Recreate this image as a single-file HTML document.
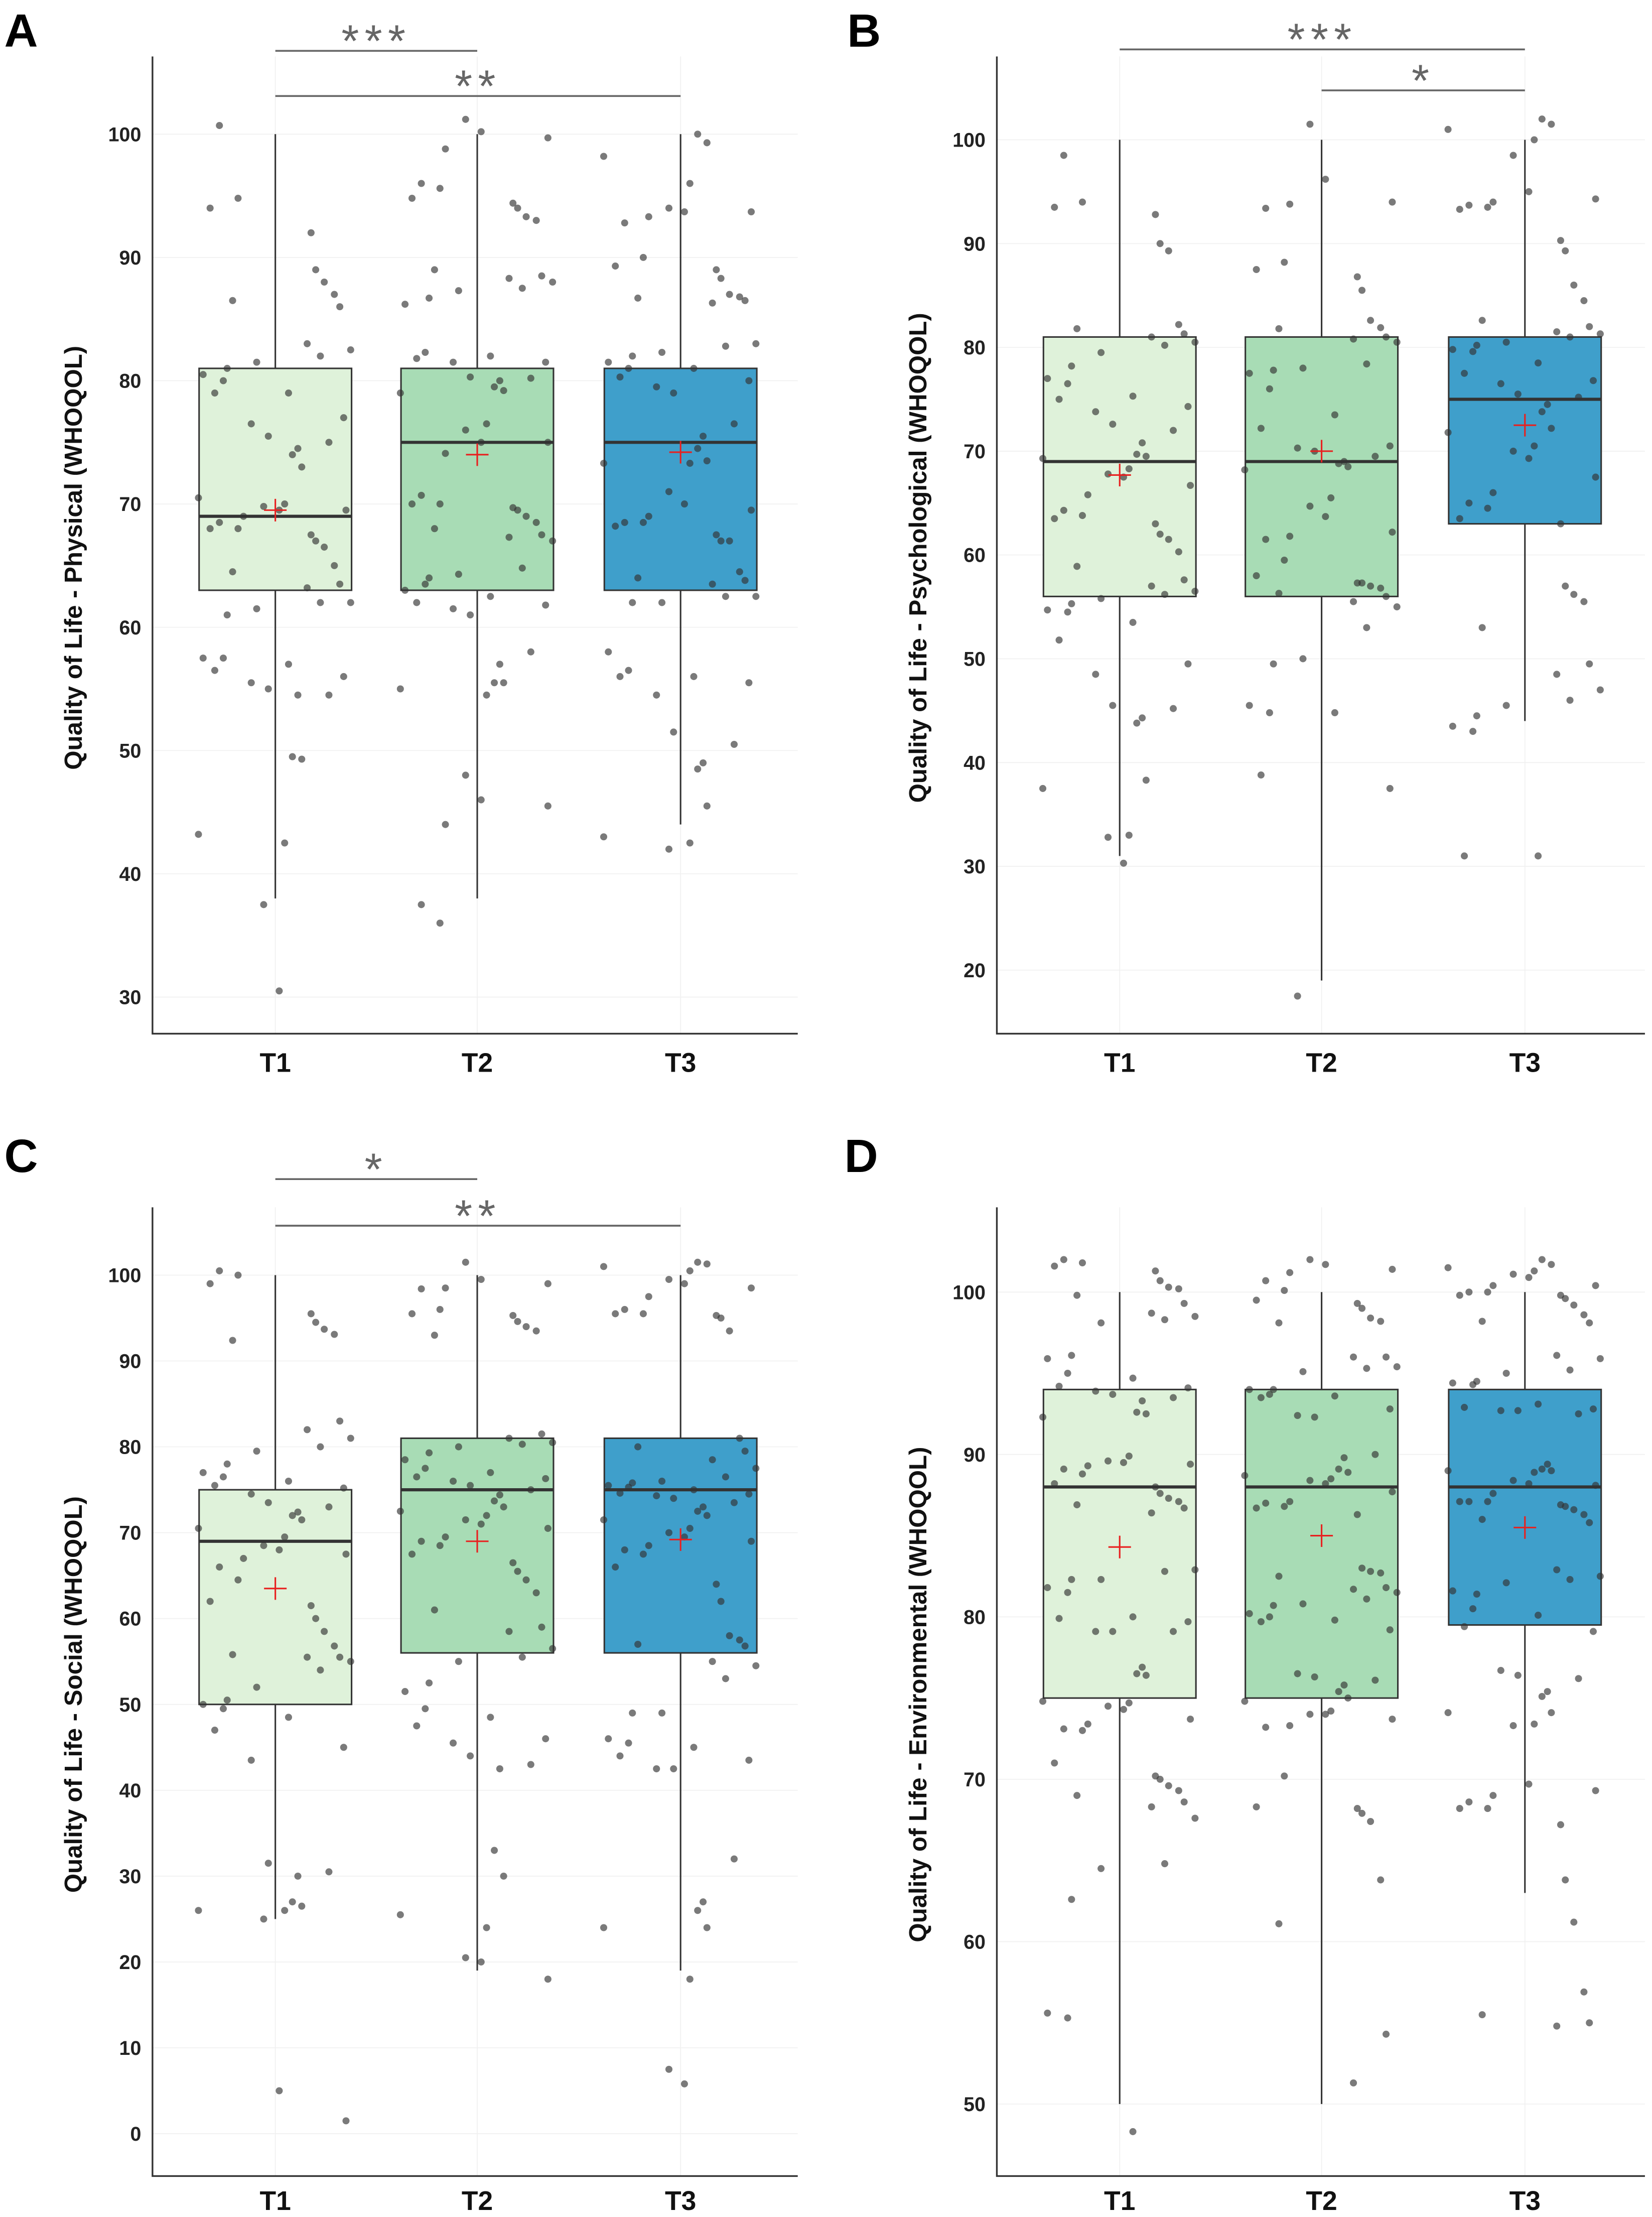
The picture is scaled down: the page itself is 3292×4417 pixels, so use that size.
<!DOCTYPE html>
<html><head><meta charset="utf-8"><style>
html,body{margin:0;padding:0;background:#fff}
svg{display:block}
text{font-family:"Liberation Sans",Arial,sans-serif}
</style></head><body>
<svg id="fig" width="3292" height="4417" viewBox="0 0 1170 1570" preserveAspectRatio="none" xmlns="http://www.w3.org/2000/svg"></svg>
<script>
const groups = ["T1","T2","T3"];
const fills = ["#dff2da","#a8dcb5","#3f9fcb"];
// box stats [low whisker, q1, median, q3, high whisker, mean]
const statsA = [[38,63,69,81,100,69.5],[38,63,75,81,100,74],[44,63,75,81,100,74.2]];
const statsB = [[31,56,69,81,100,67.7],[19,56,69,81,100,70],[44,63,75,81,100,72.5]];
const statsC = [[25,50,69,75,100,63.5],[19,56,75,81,100,69],[19,56,75,81,100,69.2]];
const statsD = [[50,75,88,94,100,84.3],[50,75,88,94,100,85],[63,79.5,88,94,100,85.5]];
// individual observations
const ptsA = [
 [100.7,94.8,94,92,89,88,87,86.5,86,83,82.5,82,81.5,81,80.5,80,79,79,77,76.5,75.5,75,74.5,74,73,70.5,70,69.8,69.5,69.5,69,68.5,68,68,67.5,67,66.5,65,64.5,63.5,63.2,62,62,61.5,61,57.5,57.5,57,56.5,56,55.5,55,54.5,54.5,49.5,49.3,43.2,42.5,37.5,30.5],
 [101.2,100.2,99.7,98.8,96,95.6,94.8,94.4,94,93.3,93,89,88.5,88.3,88,87.5,87.3,86.7,86.2,82.3,82,81.8,81.5,81.5,80.3,80.2,80,79.5,79.2,79,76.5,76,75,75,74.1,70.7,70,70,69.7,69.5,69,68.5,68,67.5,67.3,67,64.8,64.3,64,63,63.5,62.5,62,61.8,61.5,61,58,57,55.5,55.5,55,54.5,48,46,45.5,44,37.5,36],
 [100,99.3,98.2,96,94,93.7,93.7,93.3,92.8,90,89.3,89,88.3,87,86.8,86.7,86.5,86.3,83,82.8,82.3,82,81.5,81,81,80.3,80,79.5,79,76.5,75.5,74.5,73.5,73.3,73.3,71,70,69.5,69,68.5,68.5,68.2,67.5,67,67,64.5,64,63.8,63.5,62.5,62.5,62,62,58,56.5,56,56,55.5,54.5,51.5,50.5,49,48.5,45.5,43,42.5,42]
];
const ptsB = [
 [98.5,94,93.5,92.8,90,89.3,82.2,81.8,81.3,81,80.5,80.2,79.5,78.2,77,76.5,75.3,75,74.3,73.8,72.6,72,70.8,69.7,69.5,69.3,68.3,67.8,67.5,66.7,65.8,64.3,63.8,63.5,63,62,61.5,60.3,58.9,57.6,57,56.5,56.2,55.8,55.3,54.7,54.5,53.5,51.8,49.5,48.5,45.5,45.2,44.3,43.8,38.3,37.5,33,32.8,30.3],
 [101.5,96.2,94,93.8,93.4,88.2,87.5,86.8,85.5,82.6,81.9,81.8,81,80.8,80.5,78.4,78,77.8,77.5,76,73.5,72.2,70.5,70.3,70,69.5,69,68.8,68.5,68.2,65.5,64.7,63.7,62.2,61.8,61.5,59.5,58,57.3,57.3,57,56.8,56.3,56,55.5,55,53,50,49.5,45.5,44.8,44.8,38.8,37.5,17.5],
 [102,101.5,101,100,98.5,95,94.3,94,93.7,93.5,93.3,90.3,89.3,86,84.5,82.6,82,81.5,81.3,81,80.5,80.2,79.8,79.6,78.5,77.5,76.8,76.5,75.5,75.2,74.5,73.8,72.2,71.8,70.5,70,69.3,67.5,66,65,64.5,63.5,63,57,56.2,55.5,53,49.5,48.5,47,46,45.5,44.5,43.5,43,31,31]
];
const ptsC = [
 [100.5,100,99,95.5,94.5,93.7,93.1,92.4,83,82,81,80,79.5,78,77,76.5,76,75.5,75.2,74.5,73.5,73,72.4,72,71.5,70.5,69.5,68.5,68,67.5,67,66,64.5,62,61.5,60,58.5,56.8,55.8,55.5,55.5,55,54,52,50.5,50,49.5,48.5,47,45,43.5,31.5,30.5,30,27,26.5,26,26,25,5,1.5],
 [101.5,99.5,99,98.5,98.4,96,95.5,95.3,94.6,94,93.5,93,81.5,81,80.5,80.3,80,79.3,78.5,77.5,77,76.5,76.3,76,75.5,75,74.4,73.7,73,72.5,72,71.5,71,70.5,69.5,69,68.5,67.5,66.5,65.5,64.5,63,61,59,58.5,56.5,55.5,55,52.5,51.5,49.5,48.5,47.5,46,45.5,44,43,42.5,33,30,25.5,24,20.5,20,18],
 [101.5,101.3,101,100.5,99.5,99,98.5,97.5,96,95.5,95.5,95.3,95,93.5,81,80,79.5,78.5,77.5,76.5,76,75.8,75.5,75.3,75,74.6,74.5,74.3,74,73.5,73,72.5,72,71.5,70.5,70,69.5,69,68.5,68,67.5,66,64,62,58,57.5,57,56.8,55,54.5,53,49,49,46,45.5,45,44,43.5,42.5,42.5,32,27,26,24,24,18,7.5,5.8]
];
const ptsD = [
 [102,101.8,101.6,101.3,100.7,100.3,100.2,99.8,99.3,98.7,98.5,98.3,98.1,96.1,95.9,95,94.7,94.2,94.1,93.9,93.7,93.5,93.3,92.6,92.5,92.3,89.9,89.6,89.5,89.4,89.3,89.1,88.8,88.2,88,87.6,87.3,87.1,86.9,86.7,86.4,82.9,82.8,82.3,82.3,81.8,81.5,80,79.9,79.7,79.1,79.1,79.1,76.9,76.5,76.4,74.8,74.7,74.5,74.3,73.7,73.4,73.1,73,71,70.2,70,69.6,69.3,69,68.6,68.3,67.6,64.8,64.5,62.6,55.6,55.3,48.3],
 [102,101.7,101.4,101.2,100.7,100.1,99.5,99.3,99,98.4,98.2,98.1,96,96,95.4,95.3,95.1,94,94,93.7,93.6,93.5,92.8,92.4,92.3,90,89.8,89.1,88.9,88.7,88.5,88.4,88.2,87.7,87.1,87,86.8,86.7,86.3,83,82.8,82.7,82.5,81.8,81.7,81.5,81.1,80.8,80.7,80.2,80,79.8,79.7,79.2,76.5,76.3,76.1,75.8,75.4,75,74.8,74.2,74,74,73.7,73.3,73.2,70.2,68.3,68.2,67.9,67.4,63.8,61.1,54.3,51.3],
 [102,101.7,101.5,101.3,101.1,100.9,100.4,100.4,100,100,99.8,99.8,99.6,99.2,98.6,98.2,98.1,96.1,95.9,95.2,95,94.5,94.4,94.3,93.1,92.9,92.8,92.7,92.7,92.5,89.4,89.1,89,89,88.9,88.4,88.2,88.1,87.6,87.1,87.1,87.1,86.9,86.8,86.6,86.3,86,85.8,82.9,82.5,82.3,82.1,81.4,81.6,80.5,80.1,79.4,79.1,76.7,76.4,76.2,75.4,75.1,74.1,74.1,73.4,73.3,69.7,69.3,69,68.6,68.2,68.2,67.2,63.8,61.2,56.9,55.5,55,54.8]
];
const jitter = [-0.72,0.41,0.88,-0.15,0.63,-0.93,0.22,-0.48,0.97,-0.31,0.05,0.76,-0.67,0.34,-0.84,0.58,-0.09,0.91,-0.55,0.17,-0.99,0.46,-0.24,0.69,-0.41,0.83,-0.78,0.12,0.52,-0.62,0.29];
const ticksA=[30,40,50,60,70,80,90,100], ticksB=[20,30,40,50,60,70,80,90,100], ticksC=[0,10,20,30,40,50,60,70,80,90,100], ticksD=[50,60,70,80,90,100];

const NS="http://www.w3.org/2000/svg";
const svg=document.getElementById('fig');
function el(tag,attrs,parent,txt){const e=document.createElementNS(NS,tag);for(const k in attrs)e.setAttribute(k,attrs[k]);if(txt!==undefined)e.textContent=txt;(parent||svg).appendChild(e);return e;}

function panel(cfg){
  const g=el('g',{});
  
  
  const y=v=>cfg.y0+(cfg.v0-v)*cfg.k;
  const xs=[cfg.left+87,cfg.left+230,cfg.left+374];
  cfg.ticks.forEach(t=>{const l=el('line',{x1:cfg.left,x2:cfg.right,y1:y(t),y2:y(t),stroke:'#f0f0f0','stroke-width':0.6},g);
    });
  xs.forEach((x,i)=>{const l=el('line',{x1:x,x2:x,y1:cfg.top,y2:cfg.bottom,stroke:'#f0f0f0','stroke-width':0.6},g);
    });
  cfg.stats.forEach((s,i)=>{
    const x=xs[i],hw=54;
    const w=el('line',{x1:x,x2:x,y1:y(s[4]),y2:y(s[0]),stroke:'#333','stroke-width':1.1},g);
    
    const r=el('rect',{x:x-hw,y:y(s[3]),width:hw*2,height:y(s[1])-y(s[3]),fill:fills[i],stroke:'#333','stroke-width':1.1},g);
    
    const m=el('line',{x1:x-hw,x2:x+hw,y1:y(s[2]),y2:y(s[2]),stroke:'#333','stroke-width':2.2},g);
    
  });
  cfg.pts.forEach((arr,i)=>{arr.forEach((v,j)=>{
    const c=el('circle',{cx:xs[i]+jitter[(j*7+i*3)%jitter.length]*55,cy:y(v),r:2.5,fill:'#333','fill-opacity':0.65},g);
    
  });});
  cfg.stats.forEach((s,i)=>{
    const p=el('path',{d:`M${xs[i]-8},${y(s[5])}h16M${xs[i]},${y(s[5])-8}v16`,stroke:'#e8201f','stroke-width':1.1,fill:'none'},g);
    
  });
  const ax=el('path',{d:`M${cfg.left},${cfg.top}V${cfg.bottom}H${cfg.right}`,stroke:'#333','stroke-width':1.2,fill:'none'},g);
  
  cfg.ticks.forEach(t=>{const tx=el('text',{x:cfg.left-8,y:y(t)+5,'text-anchor':'end','font-size':14,'font-weight':'bold',fill:'#222'},g,String(t));
    });
  xs.forEach((x,i)=>{const tx=el('text',{x:x,y:cfg.bottom+cfg.labOff,'text-anchor':'middle','font-size':19,'font-weight':'bold',fill:'#111'},g,groups[i]);
    });
  const ty=el('text',{x:0,y:0,transform:`translate(${cfg.left-50},${cfg.titleY}) rotate(-90)`,'text-anchor':'middle','font-size':17.5,'font-weight':'bold',fill:'#111'},g,cfg.title);
  
  const lt=el('text',{x:cfg.letterX,y:cfg.letterY,'font-size':33,'font-weight':'bold',fill:'#000'},g,cfg.letter);
  
  cfg.sig.forEach(b=>{
    const l=el('line',{x1:xs[b[0]],x2:xs[b[1]],y1:b[2],y2:b[2],stroke:'#666','stroke-width':1.3},g);
    
    const t=el('text',{x:(xs[b[0]]+xs[b[1]])/2,y:b[2]+4,'text-anchor':'middle','font-size':32,fill:'#666','letter-spacing':4},g,b[3]);
    
  });
}
panel({letter:'A',letterX:3,letterY:33,left:108,right:565,top:40,bottom:732,labOff:27,y0:95,v0:100,k:8.73,ticks:ticksA,stats:statsA,pts:ptsA,title:'Quality of Life - Physical (WHOQOL)',titleY:395,sig:[[0,1,36,'***'],[0,2,68,'**']]});
panel({letter:'B',letterX:600,letterY:33,left:706,right:1165,top:40,bottom:732,labOff:27,y0:99,v0:100,k:7.35,ticks:ticksB,stats:statsB,pts:ptsB,title:'Quality of Life - Psychological (WHOQOL)',titleY:395,sig:[[0,2,35,'***'],[1,2,64,'*']]});
panel({letter:'C',letterX:3,letterY:830,left:108,right:565,top:855,bottom:1541,labOff:24,y0:903,v0:100,k:6.08,ticks:ticksC,stats:statsC,pts:ptsC,title:'Quality of Life - Social (WHOQOL)',titleY:1200,sig:[[0,1,835,'*'],[0,2,868,'**']]});
panel({letter:'D',letterX:598,letterY:830,left:706,right:1165,top:855,bottom:1541,labOff:24,y0:915,v0:100,k:11.5,ticks:ticksD,stats:statsD,pts:ptsD,title:'Quality of Life - Environmental (WHOQOL)',titleY:1200,sig:[]});
</script>
</body></html>
